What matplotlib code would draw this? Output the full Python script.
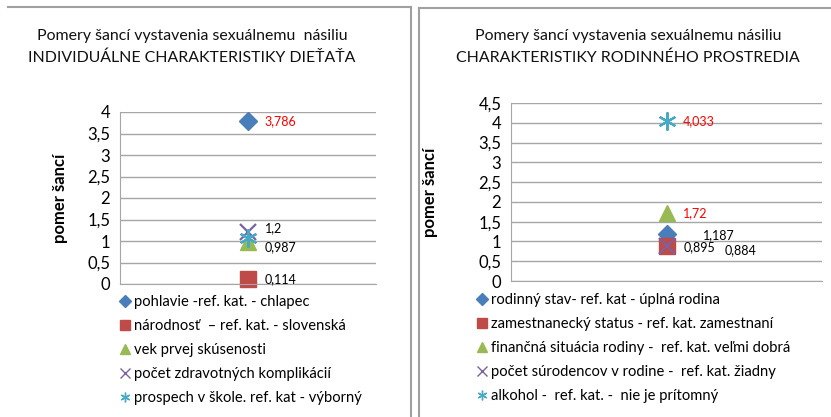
import matplotlib
matplotlib.use("Agg")
import matplotlib.pyplot as plt
from matplotlib.lines import Line2D

FONT = ["Lato", "DejaVu Sans"]
plt.rcParams["font.family"] = FONT

# ---- data ----
left_title = "Pomery šancí vystavenia sexuálnemu  násiliu\nINDIVIDUÁLNE CHARAKTERISTIKY DIEŤAŤA"
left_series = ["pohlavie -ref. kat. - chlapec",
               "národnosť  – ref. kat. - slovenská",
               "vek prvej skúsenosti",
               "počet zdravotných komplikácií",
               "prospech v škole. ref. kat - výborný"]
left_values = [3.786, 0.114, 0.987, 1.2, 1.08]
left_labels = ["3,786", "0,114", "0,987", "1,2", None]
left_label_colors = ["red", "black", "black", "black", "black"]
left_yticks = [0, 0.5, 1, 1.5, 2, 2.5, 3, 3.5, 4]

right_title = "Pomery šancí vystavenia sexuálnemu násiliu\nCHARAKTERISTIKY RODINNÉHO PROSTREDIA"
right_series = ["rodinný stav- ref. kat - úplná rodina",
                "zamestnanecký status - ref. kat. zamestnaní",
                "finančná situácia rodiny -  ref. kat. veľmi dobrá",
                "počet súrodencov v rodine -  ref. kat. žiadny",
                "alkohol -  ref. kat. -  nie je prítomný"]
right_values = [1.187, 0.895, 1.72, 0.884, 4.033]
right_labels = ["1,187", "0,895", "1,72", "0,884", "4,033"]
right_label_colors = ["black", "black", "red", "black", "red"]
right_yticks = [0, 0.5, 1, 1.5, 2, 2.5, 3, 3.5, 4, 4.5]

tick_labels = lambda ticks: [("%g" % t).replace(".", ",") for t in ticks]

markers = ["D", "s", "^", "x", (6, 2, 0)]
colors = ["#4A7EBB", "#BE4B48", "#98B954", "#7D60A0", "#46AAC5"]
msizes = [9, 11, 11, 11, 13]

W, H = 831, 417
fig = plt.figure(figsize=(W / 100, H / 100), dpi=100)

def fx(px):
    return px / W

def fy(py):
    return 1 - py / H

# panel borders
bc = "#A0A0A0"
fig.add_artist(Line2D([fx(8), fx(411)], [fy(7), fy(7)], color=bc, lw=1.5))
fig.add_artist(Line2D([fx(411), fx(411)], [fy(7), fy(417)], color=bc, lw=1.5))
fig.add_artist(Line2D([fx(419), fx(831)], [fy(8), fy(8)], color=bc, lw=1.5))
fig.add_artist(Line2D([fx(419), fx(419)], [fy(8), fy(417)], color=bc, lw=1.5))


def panel(x0, x1, ytop, ybot, ymax, yticks, values, labels, lcolors, label_offsets,
          title, title_x, ylabel_x, series, leg_x, leg_y):
    ax = fig.add_axes([fx(x0), fy(ybot), fx(x1) - fx(x0), fy(ytop) - fy(ybot)])
    ax.set_xlim(-1, 1)
    ax.set_ylim(0, ymax)
    ax.set_yticks(yticks)
    ax.set_yticklabels(tick_labels(yticks), fontsize=12)
    ax.set_xticks([])
    ax.grid(axis="y", color="#A6A6A6", lw=1)
    ax.set_axisbelow(True)
    for s in ["top", "right"]:
        ax.spines[s].set_visible(False)
    ax.spines["left"].set_color("#A6A6A6")
    ax.spines["bottom"].set_color("#A6A6A6")
    ax.tick_params(axis="y", length=0, pad=7)
    for i, v in enumerate(values):
        mk = markers[i]
        kw = dict(marker=mk, color=colors[i], ms=msizes[i], ls="none")
        if mk == "x" or isinstance(mk, tuple):
            kw["mew"] = 1.6
        ax.plot([0], [v], **kw, clip_on=False)
        if labels[i]:
            dx, dy = label_offsets[i]
            ax.annotate(labels[i], (0, v), xytext=(dx, dy), textcoords="offset points",
                        fontsize=9, color=lcolors[i], va="center", ha="left")
    ax.set_ylabel("pomer šancí", fontsize=12, fontweight="bold")
    ax.yaxis.set_label_coords((fx(ylabel_x) - fx(x0)) / (fx(x1) - fx(x0)), 0.5)
    fig.text(fx(title_x), fy(47), title, ha="center", va="center", fontsize=11.4,
             linespacing=1.7, color="#111111")
    # legend
    lh = [Line2D([], [], marker=markers[i], color=colors[i], ls="none",
                 ms=(6 if i == 0 else 7), mew=1) for i in range(len(series))]
    fig.legend(lh, series, loc="upper left", bbox_to_anchor=(fx(leg_x), fy(leg_y)),
               frameon=False, handlelength=0.6, handletextpad=0.3,
               labelspacing=0.68, borderpad=0, borderaxespad=0,
               prop={"size": 10.6})
    return ax


panel(120, 376, 112, 284, 4, left_yticks, left_values, left_labels, left_label_colors,
      [(12, 0), (12, 0), (12, -4), (12, 3), (12, 0)],
      left_title, 192, 68, left_series, 121, 295)

panel(511, 822, 103, 281, 4.5, right_yticks, right_values, right_labels, right_label_colors,
      [(26, -1), (12, -1), (12, 0), (42, -3), (12, 0)],
      right_title, 628, 438, right_series, 478, 293)

fig.savefig("out.png", dpi=100)
